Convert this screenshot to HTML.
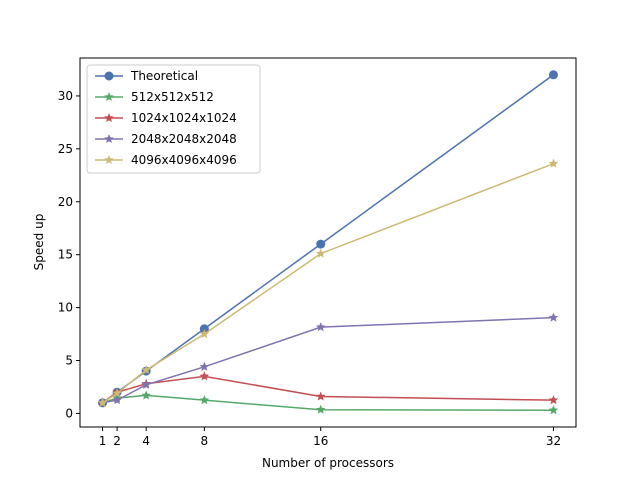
<!DOCTYPE html>
<html><head><meta charset="utf-8"><style>body{margin:0;background:#fff}svg text{font-family:"DejaVu Sans","Liberation Sans",sans-serif;font-size:12px;fill:#000}</style></head>
<body>
<svg width="640" height="480" id="chart">
<rect x="80" y="58" width="496" height="369" fill="none" stroke="#000" stroke-width="1"/>
<g id="axes"></g><g id="series"></g>
<text x="328" y="467" text-anchor="middle">Number of processors</text>
<text transform="translate(43,242) rotate(-90)" text-anchor="middle">Speed up</text>
<g id="legend">
<rect x="87" y="65" width="173" height="108" rx="3" fill="#fff" fill-opacity="0.8" stroke="#ccc"/>
</g>
</svg>
<script>
const xs=[1,2,4,8,16,32];
const names=["Theoretical","512x512x512","1024x1024x1024","2048x2048x2048","4096x4096x4096"];
const sTheo=[1,2,4,8,16,32];
const s512=[1,1.45,1.7,1.25,0.35,0.3];
const s1024=[1,2.0,2.8,3.5,1.6,1.25];
const s2048=[1,1.25,2.7,4.4,8.15,9.05];
const s4096=[1,1.9,4.1,7.5,15.1,23.6];
const yTicks=[0,5,10,15,20,25,30];
const colors=["#4C72B0","#55A868","#C44E52","#8172B2","#CCB974"];
const all=[sTheo,s512,s1024,s2048,s4096];
const X=v=>80+(v+0.55)/34.1*496;
const Y=v=>427-(v+1.285)/34.87*369;
const NS="http://www.w3.org/2000/svg";
function mk(t,a,p){const e=document.createElementNS(NS,t);for(const k in a)e.setAttribute(k,a[k]);p.appendChild(e);return e;}
const ax=document.getElementById('axes');
xs.forEach(v=>{const l=mk('line',{x1:X(v),x2:X(v),y1:427,y2:431,stroke:'#000'},ax);
const t=mk('text',{x:X(v),y:445,'text-anchor':'middle'},ax);t.textContent=v;});
yTicks.forEach(v=>{const l=mk('line',{x1:76,x2:80,y1:Y(v),y2:Y(v),stroke:'#000'},ax);
const t=mk('text',{x:73,y:Y(v)+4,'text-anchor':'end'},ax);t.textContent=v;});
function star(cx,cy,r,p,c){let pts=[];for(let i=0;i<10;i++){const rr=i%2?r*0.45:r;const a=-Math.PI/2+i*Math.PI/5;pts.push((cx+rr*Math.cos(a)).toFixed(1)+','+(cy+rr*Math.sin(a)).toFixed(1));}return mk('polygon',{points:pts.join(' '),fill:c},p);}
const sg=document.getElementById('series');
all.forEach((s,i)=>{const g=mk('g',{},sg);
const pl=mk('polyline',{points:xs.map((x,j)=>X(x)+','+Y(s[j])).join(' '),fill:'none',stroke:colors[i],'stroke-width':1.5},g);
xs.forEach((x,j)=>{let m;if(i==0)m=mk('circle',{cx:X(x),cy:Y(s[j]),r:4.5,fill:colors[i]},g);else m=star(X(x),Y(s[j]),5,g,colors[i]);});});
const lg=document.getElementById('legend');
names.forEach((n,i)=>{const y=76+i*21;const g=mk('g',{},lg);
mk('line',{x1:95,x2:123,y1:y,y2:y,stroke:colors[i],'stroke-width':1.5},g);
if(i==0)mk('circle',{cx:109,cy:y,r:4.5,fill:colors[i]},g);else star(109,y,5,g,colors[i]);
const t=mk('text',{x:131,y:y+4},g);t.textContent=n;});
</script>
</body></html>
